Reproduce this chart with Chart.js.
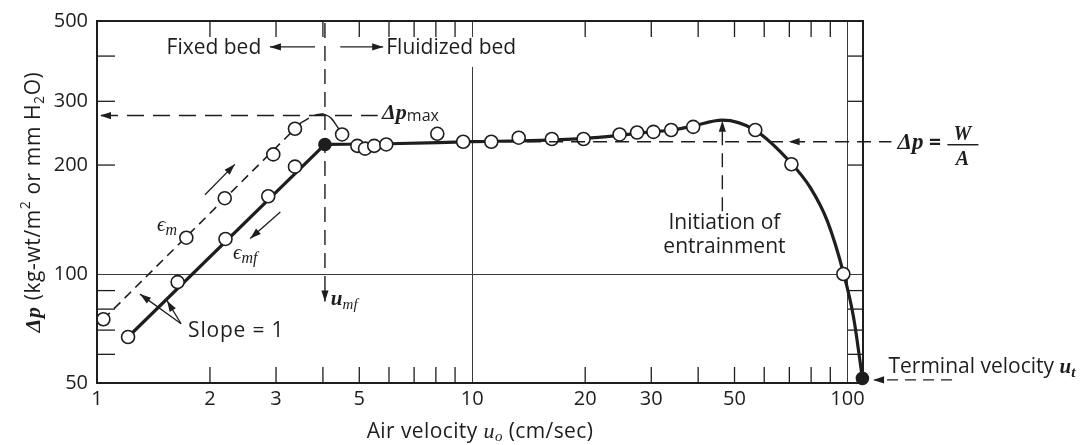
<!DOCTYPE html>
<html>
<head>
<meta charset="utf-8">
<script src="https://cdn.jsdelivr.net/npm/chart.js@4.4.1/dist/chart.umd.min.js"></script>
<style>
  html, body { margin: 0; padding: 0; background: #fff; }
</style>
</head>
<body>
<canvas id="chart" width="1084" height="445"></canvas>
<script>
// ---- data (air velocity cm/s, pressure drop kg-wt/m2) ----
// rising velocity, loosely packed bed (eps_m)
const upX = [1.04, 1.73, 2.19, 2.95, 3.37];
const upY = [75, 126, 162, 214, 252];
// falling velocity, settled bed (eps_mf)
const downX = [1.21, 1.64, 2.2, 2.86, 3.37];
const downY = [67, 95, 125, 164, 198];
// fluidized region
const fluidX = [4.5, 4.94, 5.18, 5.48, 5.9, 8.07, 9.46, 11.24, 13.3, 16.3, 19.8, 24.7, 27.5, 30.4, 33.9, 38.8, 56.8, 70.9, 97.5];
const fluidY = [243, 226, 222, 226, 228, 244, 232, 232, 238, 236, 236, 243, 246, 247, 250, 255, 250, 201, 100];
// filled points: u_mf and terminal velocity
const keyX = [4.05, 109.6];
const keyY = [228, 51.5];

// drawn curves
const mLineX = [1.04, 3.5];
const mLineY = [75, 262];
const humpUpX = [3.5, 3.8, 4.0];
const humpUpY = [262, 274, 277];
const humpDownX = [4.0, 4.2, 4.35, 4.5];
const humpDownY = [277, 270, 257, 243];
const mfLineX = [1.21, 4.05];
const mfLineY = [67, 228];
const fluidCurveX = [4.05, 6, 10, 15, 20, 25, 30, 34, 38.5, 46.4, 56.5, 70.9, 79.7, 88.4, 97.6, 103.8, 109.6];
const fluidCurveY = [228, 229, 232, 234, 237, 242, 247, 250, 256, 266, 250, 202, 173, 140, 100.6, 76, 51.5];

// axes
const xTicks = [1, 2, 3, 4, 5, 6, 7, 8, 9, 10, 20, 30, 40, 50, 60, 70, 80, 90, 100];
const xLabels = [1, 2, 3, 5, 10, 20, 30, 50, 100];
const yTicks = [50, 60, 70, 80, 90, 100, 200, 300, 400, 500];
const yLabels = [50, 100, 200, 300, 500];

const INK = '#1e1e1e';
const SANS = '"Open Sans", "Liberation Sans", sans-serif';
const MATH = '"Liberation Serif", "DejaVu Serif", serif';

const pts = (xs, ys) => xs.map((v, i) => ({ x: v, y: ys[i] }));

function rich(ctx, parts, x, y, align, spacing) {
  ctx.letterSpacing = (spacing || 0) + 'px';
  let w = 0;
  parts.forEach(p => { ctx.font = p[1]; w += ctx.measureText(p[0]).width; });
  let cx = align === 'center' ? x - w / 2 : align === 'right' ? x - w : x;
  ctx.textAlign = 'left';
  ctx.textBaseline = 'alphabetic';
  parts.forEach(p => {
    ctx.font = p[1];
    ctx.fillText(p[0], cx, y + (p[2] || 0));
    cx += ctx.measureText(p[0]).width;
  });
  ctx.letterSpacing = '0px';
  return cx;
}

function seg(ctx, x1, y1, x2, y2, dash) {
  ctx.setLineDash(dash || []);
  ctx.beginPath();
  ctx.moveTo(x1, y1);
  ctx.lineTo(x2, y2);
  ctx.stroke();
  ctx.setLineDash([]);
}

// filled head at (x2, y2), pointing away from (x1, y1)
function head(ctx, x1, y1, x2, y2) {
  const a = Math.atan2(y2 - y1, x2 - x1), len = 11, w = 3.6;
  ctx.beginPath();
  ctx.moveTo(x2, y2);
  ctx.lineTo(x2 - len * Math.cos(a) + w * Math.sin(a), y2 - len * Math.sin(a) - w * Math.cos(a));
  ctx.lineTo(x2 - len * Math.cos(a) - w * Math.sin(a), y2 - len * Math.sin(a) + w * Math.cos(a));
  ctx.closePath();
  ctx.fill();
}

const annotations = {
  id: 'annotations',
  afterDraw(chart) {
    const { ctx, chartArea: a, scales: { x, y } } = chart;
    const px = v => x.getPixelForValue(v);
    const py = v => y.getPixelForValue(v);
    ctx.save();
    ctx.strokeStyle = INK;
    ctx.fillStyle = INK;

    // frame and inward ticks
    ctx.lineWidth = 2;
    ctx.strokeRect(a.left, a.top, a.right - a.left, a.bottom - a.top);
    ctx.lineWidth = 1.3;
    xTicks.filter(v => v !== 1 && v !== 10 && v !== 100).forEach(v => {
      seg(ctx, px(v), a.bottom, px(v), a.bottom - 16);
      seg(ctx, px(v), a.top, px(v), a.top + 16);
    });
    yTicks.filter(v => v !== 50 && v !== 100 && v !== 500).forEach(v => {
      seg(ctx, a.left, py(v), a.left + 18, py(v));
      seg(ctx, px(100), py(v), a.right, py(v));
    });

    // gap in the u=10 grid line behind the header
    const hy = py(424);
    ctx.fillStyle = '#fff';
    ctx.fillRect(px(10) - 2, a.top + 16, 4, hy + 20 - a.top - 16);
    ctx.fillStyle = INK;

    const body = '21px ' + SANS;
    const dashLong = [15, 8];

    // Fixed bed / Fluidized bed header
    ctx.lineWidth = 1.3;
    seg(ctx, px(3.81), hy, px(2.89), hy);
    head(ctx, px(3.81), hy, px(2.89), hy);
    seg(ctx, px(4.45), hy, px(5.79), hy);
    head(ctx, px(4.45), hy, px(5.79), hy);
    rich(ctx, [['Fixed bed', body]], px(2.74), hy + 7, 'right');
    rich(ctx, [['Fluidized bed', body]], px(5.9), hy + 7, 'left');

    // u_mf vertical
    ctx.lineWidth = 1.4;
    seg(ctx, px(4.05), a.top + 2, px(4.05), py(84), dashLong);
    head(ctx, px(4.05), py(95), px(4.05), py(84));
    rich(ctx, [['u', 'bold italic 21px ' + MATH], ['mf', 'italic 15px ' + MATH, 4]], px(4.2), py(84) + 4, 'left');

    // delta p max
    seg(ctx, a.left + 4, py(274), px(5.6), py(274), [17, 9]);
    head(ctx, a.left + 16, py(274), a.left + 3, py(274));
    rich(ctx, [['Δp', 'bold italic 22px ' + MATH], ['max', '16px ' + SANS, 2]], px(5.75), py(274) + 3, 'left');

    // delta p = W/A
    seg(ctx, px(14), py(232), px(131), py(232), [14, 8]);
    head(ctx, px(80), py(232), px(69.7), py(232));
    const ly = py(232);
    const ex = rich(ctx, [['Δp', 'bold italic 23px ' + MATH], [' = ', 'bold 21px ' + SANS]], px(136), ly + 7, 'left');
    rich(ctx, [['W', 'bold italic 20px ' + MATH]], ex + 16, ly - 2, 'center');
    rich(ctx, [['A', 'bold italic 20px ' + MATH]], ex + 16, ly + 23, 'center');
    ctx.lineWidth = 1.5;
    seg(ctx, ex + 1, ly + 3, ex + 32, ly + 3);

    // initiation of entrainment
    ctx.lineWidth = 1.4;
    seg(ctx, px(46.4), py(149), px(46.4), py(262), [14, 8]);
    head(ctx, px(46.4), py(240), px(46.4), py(265));
    rich(ctx, [['Initiation of', body]], px(47), py(133.4), 'center');
    rich(ctx, [['entrainment', body]], px(47), py(114.6), 'center');

    // terminal velocity
    seg(ctx, px(190), py(51), px(118), py(51), [11, 7]);
    head(ctx, px(130), py(51), px(117), py(51));
    rich(ctx, [['Terminal velocity ', body], ['u', 'bold italic 21px ' + MATH], ['t', 'bold italic 15px ' + MATH, 4]], px(128.6), py(53.2), 'left');

    // eps labels and direction arrows
    rich(ctx, [['ϵ', 'italic 21px ' + MATH], ['m', 'italic 16px ' + MATH, 4]], px(1.445), py(131.8), 'left');
    rich(ctx, [['ϵ', 'italic 21px ' + MATH], ['mf', 'italic 16px ' + MATH, 4]], px(2.305), py(110), 'left');
    ctx.lineWidth = 1.3;
    seg(ctx, px(1.94), py(165.6), px(2.33), py(200.9));
    head(ctx, px(1.94), py(165.6), px(2.33), py(200.9));
    seg(ctx, px(3.08), py(148.3), px(2.56), py(125.4));
    head(ctx, px(3.08), py(148.3), px(2.56), py(125.4));

    // slope = 1
    seg(ctx, px(1.675), py(72.9), px(1.302), py(88));
    head(ctx, px(1.675), py(72.9), px(1.302), py(88));
    seg(ctx, px(1.675), py(72.9), px(1.537), py(84.4));
    head(ctx, px(1.675), py(72.9), px(1.537), py(84.4));
    rich(ctx, [['Slope = 1', body]], px(1.749), py(67.2), 'left', 0.8);

    // axis titles
    rich(ctx, [['Air velocity ', '21px ' + SANS], ['u', 'italic 22px ' + MATH], ['o', 'italic 15px ' + MATH, 3], [' (cm/sec)', '21px ' + SANS]],
      (a.left + a.right) / 2, 438, 'center', 0.4);
    ctx.translate(40, (a.top + a.bottom) / 2);
    ctx.rotate(-Math.PI / 2);
    rich(ctx, [['Δp', 'bold italic 22px ' + MATH], [' (kg-wt/m', '21px ' + SANS], ['2', '14px ' + SANS, -10],
      [' or mm H', '21px ' + SANS], ['2', '14px ' + SANS, 4], ['O)', '21px ' + SANS]], 0, 0, 'center', 0.6);
    ctx.restore();
  }
};

const markerStyle = {
  showLine: false,
  pointRadius: 6.5,
  pointBackgroundColor: '#fff',
  pointBorderColor: INK,
  pointBorderWidth: 1.6,
  clip: 10
};
const lineStyle = { showLine: true, pointRadius: 0, borderColor: INK };

new Chart(document.getElementById('chart'), {
  type: 'scatter',
  data: {
    datasets: [
      { ...markerStyle, data: pts(keyX, keyY), pointRadius: 6, pointBackgroundColor: INK },
      { ...markerStyle, data: pts(upX, upY) },
      { ...markerStyle, data: pts(downX, downY) },
      { ...markerStyle, data: pts(fluidX, fluidY) },
      { ...lineStyle, data: pts(fluidCurveX, fluidCurveY), borderWidth: 3.2, cubicInterpolationMode: 'monotone' },
      { ...lineStyle, data: pts(mfLineX, mfLineY), borderWidth: 3.2 },
      { ...lineStyle, data: pts(mLineX, mLineY), borderWidth: 1.6, borderDash: [9, 6] },
      { ...lineStyle, data: pts(humpUpX, humpUpY), borderWidth: 1.6, borderDash: [9, 6], cubicInterpolationMode: 'monotone' },
      { ...lineStyle, data: pts(humpDownX, humpDownY), borderWidth: 1.4, cubicInterpolationMode: 'monotone' }
    ]
  },
  options: {
    responsive: false,
    animation: false,
    devicePixelRatio: 1,
    layout: { padding: { left: 0, top: 17, right: 221, bottom: 0 } },
    plugins: { legend: { display: false }, tooltip: { enabled: false } },
    scales: {
      x: {
        type: 'logarithmic',
        min: 1,
        max: 110,
        afterBuildTicks: s => { s.ticks = xTicks.map(v => ({ value: v })); },
        afterFit: s => { s.height = 62; },
        border: { display: false },
        grid: {
          drawTicks: false,
          lineWidth: 1,
          color: c => (c.tick && (c.tick.value === 10 || c.tick.value === 100)) ? '#3a3a3a' : 'rgba(0,0,0,0)'
        },
        ticks: {
          autoSkip: false,
          maxRotation: 0,
          padding: 4,
          color: INK,
          font: { family: SANS, size: 20 },
          callback: v => xLabels.includes(v) ? String(v) : ''
        }
      },
      y: {
        type: 'logarithmic',
        min: 50,
        max: 500,
        afterBuildTicks: s => { s.ticks = yTicks.map(v => ({ value: v })); },
        afterFit: s => { s.width = 97; },
        border: { display: false },
        grid: {
          drawTicks: false,
          lineWidth: 1,
          color: c => (c.tick && c.tick.value === 100) ? '#3a3a3a' : 'rgba(0,0,0,0)'
        },
        ticks: {
          autoSkip: false,
          padding: 9,
          color: INK,
          font: { family: SANS, size: 20 },
          callback: v => yLabels.includes(v) ? String(v) : ''
        }
      }
    }
  },
  plugins: [annotations]
});
</script>
</body>
</html>
